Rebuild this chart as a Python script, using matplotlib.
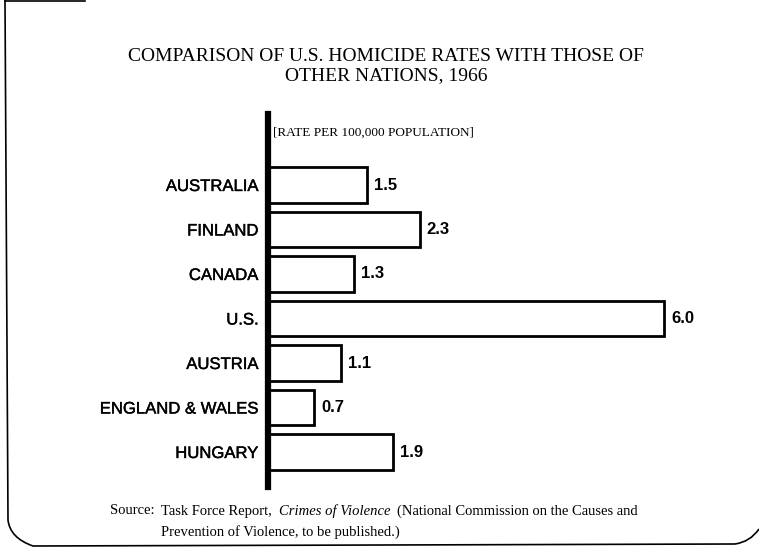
import matplotlib
matplotlib.use("Agg")
import matplotlib.pyplot as plt
from matplotlib.lines import Line2D
from matplotlib.path import Path
from matplotlib.patches import PathPatch
import matplotlib.patheffects as pe

countries = ["AUSTRALIA", "FINLAND", "CANADA", "U.S.", "AUSTRIA", "ENGLAND & WALES", "HUNGARY"]
rates = [1.5, 2.3, 1.3, 6.0, 1.1, 0.7, 1.9]
value_labels = ["1.5", "2.3", "1.3", "6.0", "1.1", "0.7", "1.9"]

title = "COMPARISON OF U.S. HOMICIDE RATES WITH THOSE OF\nOTHER NATIONS, 1966"
unit_label = "[RATE PER 100,000 POPULATION]"
source_parts = ["Task Force Report,", "Crimes of Violence", "(National Commission on the Causes and"]
source_line2 = "Prevention of Violence, to be published.)"

W, H = 759, 548
fig = plt.figure(figsize=(W / 100, H / 100), dpi=100)
fig.patch.set_facecolor("white")

def fx(px):
    return px / W

def fy(py):
    return 1 - py / H

# axes placement (pixel layout of the scan)
ax_left, ax_top, ax_bottom = 268, 114, 487
unit_px = 66.0
xmax = 6.5
c0, step = 185.0, 44.5
ax = fig.add_axes([fx(ax_left), fy(ax_bottom), xmax * unit_px / W, (ax_bottom - ax_top) / H])

ypos = list(range(len(countries)))
ax.barh(ypos, rates, height=0.8, color="white", edgecolor="black", linewidth=2.0, zorder=2)
ax.set_xlim(0, xmax)
ax.set_ylim((ax_bottom - c0) / step, (ax_top - c0) / step)

for s in ["top", "right", "bottom"]:
    ax.spines[s].set_visible(False)
ax.spines["left"].set_linewidth(4.5)
ax.spines["left"].set_zorder(3)
ax.set_xticks([])
ax.set_yticks(ypos)
ax.set_yticklabels(countries, fontsize=12, family="Liberation Sans")
for t in ax.get_yticklabels():
    t.set_path_effects([pe.withStroke(linewidth=0.3, foreground="black")])
ax.tick_params(axis="y", length=0, pad=7)
ax.patch.set_alpha(0)

for y, v, lab in zip(ypos, rates, value_labels):
    ax.annotate(lab, (v, y), xytext=(5, 0), textcoords="offset points",
                ha="left", va="center", fontsize=12, fontweight="bold",
                family="Liberation Sans", clip_on=False)

fig.text(fx(273), fy(133), unit_label, fontsize=9.5, family="Liberation Serif",
         ha="left", va="center")

fig.text(fx(386), fy(66), title, ha="center", va="center", fontsize=14,
         family="Liberation Serif", linespacing=1.15)

serif = "Liberation Serif"
fs = 10.5
fig.text(fx(110), fy(511), "Source:", fontsize=fs, family=serif, va="center")
fig.canvas.draw()
renderer = fig.canvas.get_renderer()
xcur = 161
gap = 7
for i, part in enumerate(source_parts):
    t = fig.text(fx(xcur), fy(511), part, fontsize=fs, family=serif, va="center",
                 style="italic" if i == 1 else "normal")
    bb = t.get_window_extent(renderer)
    xcur = xcur + bb.width + gap
fig.text(fx(161), fy(532), source_line2, fontsize=fs, family=serif, va="center")

# page border of the scan
fig.add_artist(Line2D([fx(5), fx(85)], [fy(1), fy(1)], color="black", lw=1.2))
verts = [(fx(5), fy(0)), (fx(8), fy(520)),
         (fx(10), fy(538)), (fx(33), fy(546)),
         (fx(735), fy(544)),
         (fx(750), fy(542)), (fx(759), fy(529))]
codes = [Path.MOVETO, Path.LINETO, Path.CURVE3, Path.CURVE3, Path.LINETO, Path.CURVE3, Path.CURVE3]
fig.add_artist(PathPatch(Path(verts, codes), fill=False, edgecolor="black", lw=1.2,
                         transform=fig.transFigure))

fig.savefig("out.png", dpi=100, facecolor="white")
